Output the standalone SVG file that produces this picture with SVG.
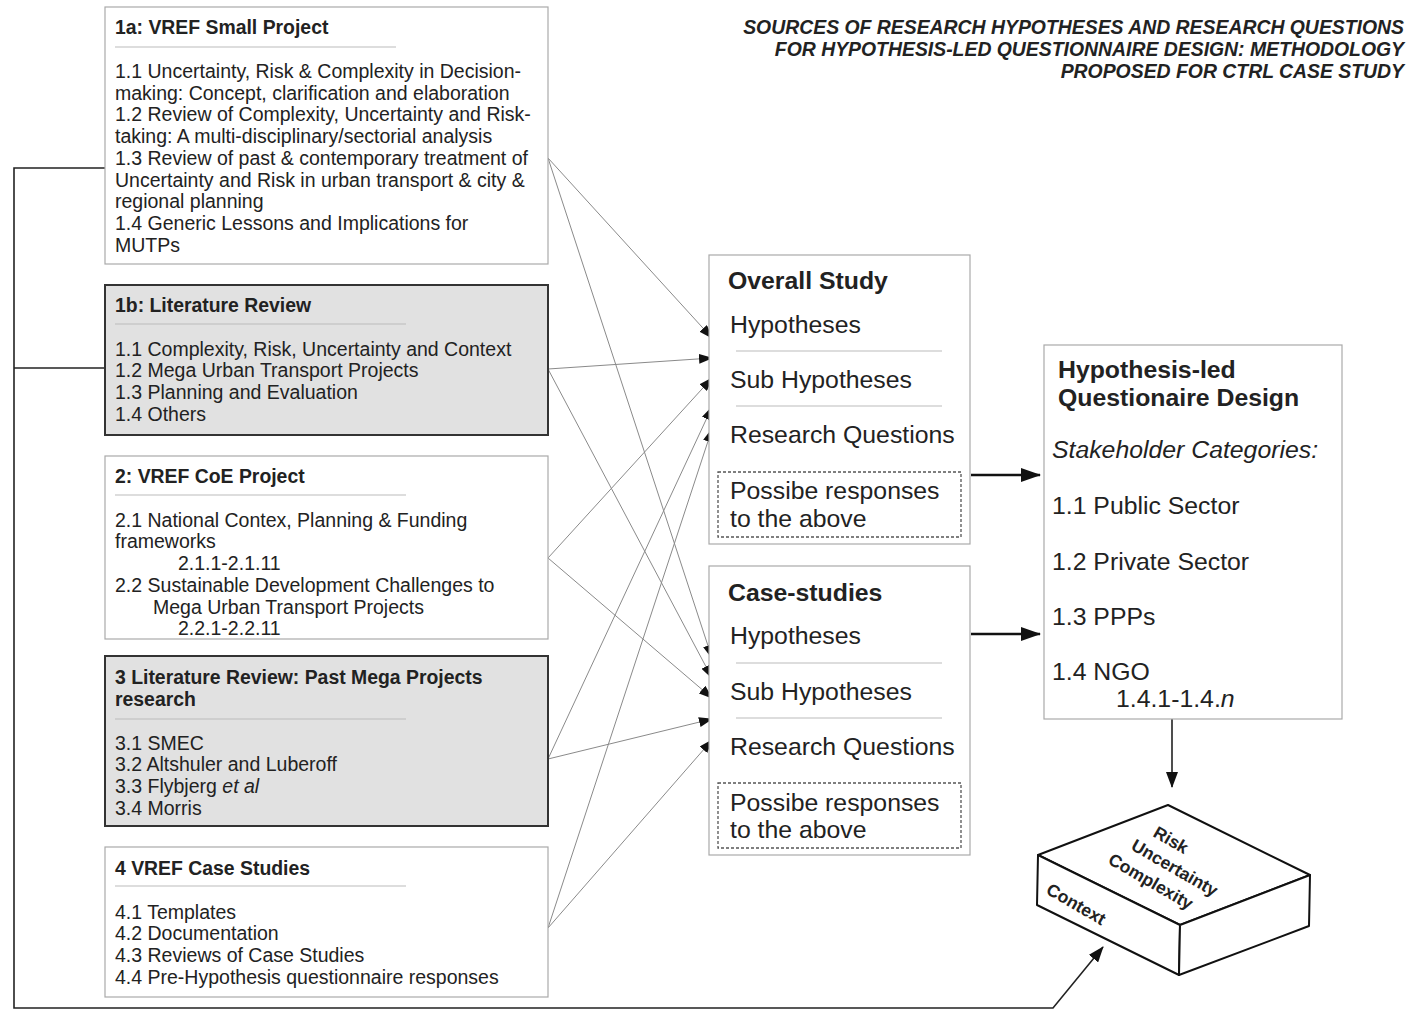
<svg xmlns="http://www.w3.org/2000/svg" width="1408" height="1011" viewBox="0 0 1408 1011">
<defs>
<style>
text{font-family:"Liberation Sans",Arial,sans-serif;fill:#222}
.b{font-size:19.5px}
.t{font-size:19.4px;font-weight:bold}
.m{font-size:24.8px}
.mt{font-size:24.8px;font-weight:bold}
.hd{font-size:19.4px;font-weight:bold;font-style:italic;text-anchor:end}
.bx{fill:#fff;stroke:#aaa;stroke-width:1.2}
.gx{fill:#e1e1e1;stroke:#333;stroke-width:2}
.sep{stroke:#bbb;stroke-width:1.2}
.dash{fill:none;stroke:#555;stroke-width:1.3;stroke-dasharray:3,2}
.cn{stroke:#8a8a8a;stroke-width:1;fill:none}
.thk{stroke:#111;stroke-width:2.5;fill:none}
.bk{stroke:#222;stroke-width:1.6;fill:none}
.cube{fill:#fff;stroke:#111;stroke-width:2;stroke-linejoin:round}
.ct{font-size:17.5px;font-weight:bold}
</style>
<marker id="a" markerUnits="userSpaceOnUse" markerWidth="14" markerHeight="10" refX="13" refY="5" orient="auto"><path d="M0,0 L14,5 L0,10 Z" fill="#111"/></marker>
<marker id="A" markerUnits="userSpaceOnUse" markerWidth="20" markerHeight="14" refX="19" refY="7" orient="auto"><path d="M0,0 L20,7 L0,14 Z" fill="#111"/></marker>
<marker id="m" markerUnits="userSpaceOnUse" markerWidth="16" markerHeight="12" refX="15" refY="6" orient="auto"><path d="M0,0 L16,6 L0,12 Z" fill="#111"/></marker>
</defs>

<g id="title">
<text class="hd" x="1404" y="34">SOURCES OF RESEARCH HYPOTHESES AND RESEARCH QUESTIONS</text>
<text class="hd" x="1404" y="56">FOR HYPOTHESIS-LED QUESTIONNAIRE DESIGN: METHODOLOGY</text>
<text class="hd" x="1404" y="78">PROPOSED FOR CTRL CASE STUDY</text>
</g>

<g id="connectors">
<path class="bk" d="M105,168 H14 V1008 H1053 L1103,947" marker-end="url(#m)"/>
<path class="bk" d="M105,368 H14"/>
<line class="cn" x1="548" y1="158" x2="712" y2="338" marker-end="url(#a)"/>
<line class="cn" x1="548" y1="158" x2="712" y2="658" marker-end="url(#a)"/>
<line class="cn" x1="548" y1="369" x2="712" y2="358" marker-end="url(#a)"/>
<line class="cn" x1="548" y1="369" x2="712" y2="678" marker-end="url(#a)"/>
<line class="cn" x1="548" y1="558" x2="712" y2="378" marker-end="url(#a)"/>
<line class="cn" x1="548" y1="558" x2="712" y2="698" marker-end="url(#a)"/>
<line class="cn" x1="548" y1="759" x2="712" y2="407" marker-end="url(#a)"/>
<line class="cn" x1="548" y1="759" x2="712" y2="719" marker-end="url(#a)"/>
<line class="cn" x1="548" y1="928" x2="712" y2="429" marker-end="url(#a)"/>
<line class="cn" x1="548" y1="928" x2="712" y2="740" marker-end="url(#a)"/>
<line class="thk" x1="971" y1="475" x2="1040" y2="475" marker-end="url(#A)"/>
<line class="thk" x1="971" y1="634" x2="1040" y2="634" marker-end="url(#A)"/>
<line class="bk" x1="1172" y1="719" x2="1172" y2="787" marker-end="url(#m)"/>
</g>

<g id="n1a">
<rect class="bx" x="105" y="7" width="443" height="257"/>
<text class="t" x="115" y="34">1a: VREF Small Project</text>
<line class="sep" x1="115" y1="47" x2="396" y2="47"/>
<text class="b" x="115" y="78">1.1 Uncertainty, Risk &amp; Complexity in Decision-</text>
<text class="b" x="115" y="100">making: Concept, clarification and elaboration</text>
<text class="b" x="115" y="121">1.2 Review of Complexity, Uncertainty and Risk-</text>
<text class="b" x="115" y="143">taking: A multi-disciplinary/sectorial analysis</text>
<text class="b" x="115" y="165">1.3 Review of past &amp; contemporary treatment of</text>
<text class="b" x="115" y="187">Uncertainty and Risk in urban transport &amp; city &amp;</text>
<text class="b" x="115" y="208">regional planning</text>
<text class="b" x="115" y="230">1.4 Generic Lessons and Implications for</text>
<text class="b" x="115" y="252">MUTPs</text>
</g>

<g id="n1b">
<rect class="gx" x="105" y="285" width="443" height="150"/>
<text class="t" x="115" y="312">1b: Literature Review</text>
<line class="sep" x1="115" y1="324" x2="406" y2="324"/>
<text class="b" x="115" y="356">1.1 Complexity, Risk, Uncertainty and Context</text>
<text class="b" x="115" y="377">1.2 Mega Urban Transport Projects</text>
<text class="b" x="115" y="399">1.3 Planning and Evaluation</text>
<text class="b" x="115" y="421">1.4 Others</text>
</g>

<g id="n2">
<rect class="bx" x="105" y="456" width="443" height="183"/>
<text class="t" x="115" y="483">2: VREF CoE Project</text>
<line class="sep" x1="115" y1="495" x2="406" y2="495"/>
<text class="b" x="115" y="527">2.1 National Contex, Planning &amp; Funding</text>
<text class="b" x="115" y="548">frameworks</text>
<text class="b" x="178" y="570">2.1.1-2.1.11</text>
<text class="b" x="115" y="592">2.2 Sustainable Development Challenges to</text>
<text class="b" x="153" y="614">Mega Urban Transport Projects</text>
<text class="b" x="178" y="635">2.2.1-2.2.11</text>
</g>

<g id="n3">
<rect class="gx" x="105" y="656" width="443" height="170"/>
<text class="t" x="115" y="684">3 Literature Review: Past Mega Projects</text>
<text class="t" x="115" y="706">research</text>
<line class="sep" x1="115" y1="719" x2="406" y2="719"/>
<text class="b" x="115" y="750">3.1 SMEC</text>
<text class="b" x="115" y="771">3.2 Altshuler and Luberoff</text>
<text class="b" x="115" y="793">3.3 Flybjerg <tspan font-style="italic">et al</tspan></text>
<text class="b" x="115" y="815">3.4 Morris</text>
</g>

<g id="n4">
<rect class="bx" x="105" y="847" width="443" height="150"/>
<text class="t" x="115" y="875">4 VREF Case Studies</text>
<line class="sep" x1="115" y1="886" x2="406" y2="886"/>
<text class="b" x="115" y="919">4.1 Templates</text>
<text class="b" x="115" y="940">4.2 Documentation</text>
<text class="b" x="115" y="962">4.3 Reviews of Case Studies</text>
<text class="b" x="115" y="984">4.4 Pre-Hypothesis questionnaire responses</text>
</g>

<g id="overall">
<rect class="bx" x="709" y="255" width="261" height="289"/>
<text class="mt" x="728" y="289">Overall Study</text>
<text class="m" x="730" y="333">Hypotheses</text>
<line class="sep" x1="736" y1="351" x2="942" y2="351"/>
<text class="m" x="730" y="388">Sub Hypotheses</text>
<line class="sep" x1="736" y1="406" x2="942" y2="406"/>
<text class="m" x="730" y="443">Research Questions</text>
<rect class="dash" x="718" y="472" width="243" height="65"/>
<text class="m" x="730" y="499">Possibe responses</text>
<text class="m" x="730" y="527">to the above</text>
</g>

<g id="case">
<rect class="bx" x="709" y="566" width="261" height="289"/>
<text class="mt" x="728" y="601">Case-studies</text>
<text class="m" x="730" y="644">Hypotheses</text>
<line class="sep" x1="736" y1="663" x2="942" y2="663"/>
<text class="m" x="730" y="700">Sub Hypotheses</text>
<line class="sep" x1="736" y1="718" x2="942" y2="718"/>
<text class="m" x="730" y="755">Research Questions</text>
<rect class="dash" x="718" y="783" width="243" height="65"/>
<text class="m" x="730" y="811">Possibe responses</text>
<text class="m" x="730" y="838">to the above</text>
</g>

<g id="hyp">
<rect class="bx" x="1044" y="345" width="298" height="374"/>
<text class="mt" x="1058" y="378">Hypothesis-led</text>
<text class="mt" x="1058" y="406">Questionaire Design</text>
<text class="m" x="1052" y="458" font-style="italic">Stakeholder Categories:</text>
<text class="m" x="1052" y="514">1.1 Public Sector</text>
<text class="m" x="1052" y="570">1.2 Private Sector</text>
<text class="m" x="1052" y="625">1.3 PPPs</text>
<text class="m" x="1052" y="680">1.4 NGO</text>
<text class="m" x="1116" y="707">1.4.1-1.4.<tspan font-style="italic">n</tspan></text>
</g>

<g id="cube">
<polygon class="cube" points="1038,855 1168,805 1310,875 1180,925"/>
<polygon class="cube" points="1038,855 1180,925 1179,975 1037,905"/>
<polygon class="cube" points="1180,925 1310,875 1309,926 1179,975"/>
<text class="ct" transform="translate(1152,836) rotate(30)">Risk</text>
<text class="ct" transform="translate(1130,849) rotate(30)">Uncertainty</text>
<text class="ct" transform="translate(1107,863) rotate(30)">Complexity</text>
<text class="ct" transform="translate(1045,893) rotate(30)">Context</text>
</g>
</svg>
